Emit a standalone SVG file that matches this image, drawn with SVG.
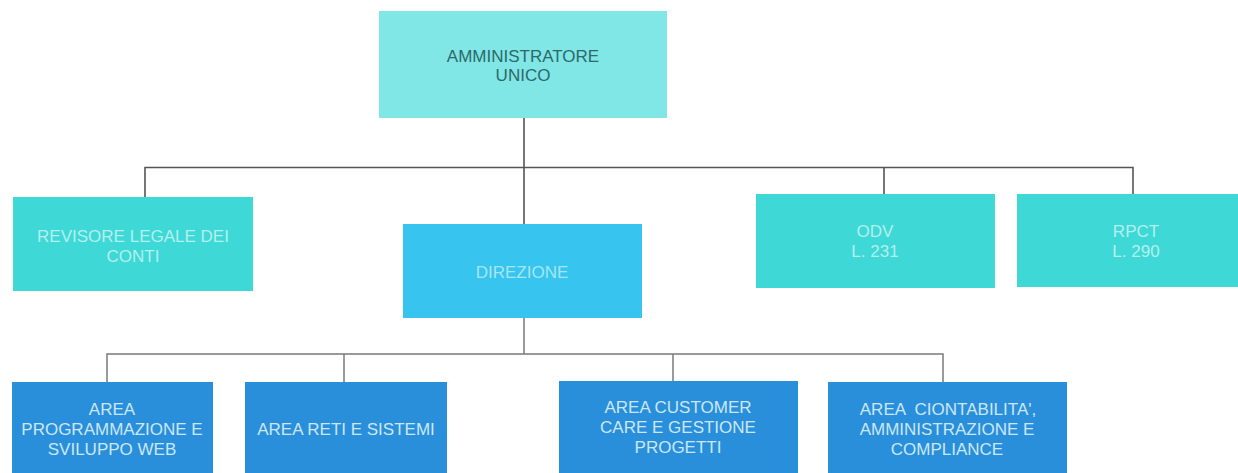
<svg xmlns="http://www.w3.org/2000/svg" width="1238" height="473" viewBox="0 0 1238 473">
<style>
text{font-family:"Liberation Sans",Arial,sans-serif;font-size:17px;text-anchor:middle;white-space:pre}
.top{fill:#80e6e6}
.top-t{fill:#2b6a69}
.teal{fill:#3ed8d6}
.teal-t{fill:#b4f0ee}
.dir{fill:#37c4ee}
.dir-t{fill:#a6e6f2}
.area{fill:#2a8fda}
.area-t{fill:#cbe7f7}
.c1{stroke:#555;stroke-width:1.6;fill:none}
.c2{stroke:#7a7a7a;stroke-width:1.5;fill:none}
</style>
<rect width="1238" height="473" fill="#ffffff"/>
<g id="connectors">
<path class="c1" d="M524 118 V224 M145 197 V167.5 H1133 V194 M884 167.5 V194"/>
<path class="c2" d="M524 318 V354 M107 382 V354 H943 V382 M344 354 V382 M673 354 V381"/>
</g>
<g id="amministratore">
<rect class="top" x="379" y="11" width="288" height="107"/>
<text class="top-t" x="523" y="62">AMMINISTRATORE</text>
<text class="top-t" x="523" y="81">UNICO</text>
</g>
<g id="revisore">
<rect class="teal" x="13" y="197" width="240" height="94"/>
<text class="teal-t" x="133" y="242">REVISORE LEGALE DEI</text>
<text class="teal-t" x="133" y="262">CONTI</text>
</g>
<g id="direzione">
<rect class="dir" x="403" y="224" width="239" height="94"/>
<text class="dir-t" x="522" y="278">DIREZIONE</text>
</g>
<g id="odv">
<rect class="teal" x="756" y="194" width="239" height="94"/>
<text class="teal-t" x="875" y="237">ODV</text>
<text class="teal-t" x="875" y="257">L. 231</text>
</g>
<g id="rpct">
<rect class="teal" x="1017" y="194" width="221" height="93"/>
<text class="teal-t" x="1136" y="237">RPCT</text>
<text class="teal-t" x="1136" y="257">L. 290</text>
</g>
<g id="area-programmazione">
<rect class="area" x="12" y="382" width="201" height="91"/>
<text class="area-t" x="112" y="415">AREA</text>
<text class="area-t" x="112" y="435">PROGRAMMAZIONE E</text>
<text class="area-t" x="112" y="455">SVILUPPO WEB</text>
</g>
<g id="area-reti">
<rect class="area" x="245" y="382" width="202" height="91"/>
<text class="area-t" x="346" y="435">AREA RETI E SISTEMI</text>
</g>
<g id="area-customer">
<rect class="area" x="559" y="381" width="239" height="92"/>
<text class="area-t" x="678" y="413">AREA CUSTOMER</text>
<text class="area-t" x="678" y="433">CARE E GESTIONE</text>
<text class="area-t" x="678" y="453">PROGETTI</text>
</g>
<g id="area-contabilita">
<rect class="area" x="828" y="382" width="239" height="91"/>
<text class="area-t" x="948" y="415">AREA  CIONTABILITA',</text>
<text class="area-t" x="947" y="435">AMMINISTRAZIONE E</text>
<text class="area-t" x="947" y="455">COMPLIANCE</text>
</g>
</svg>
